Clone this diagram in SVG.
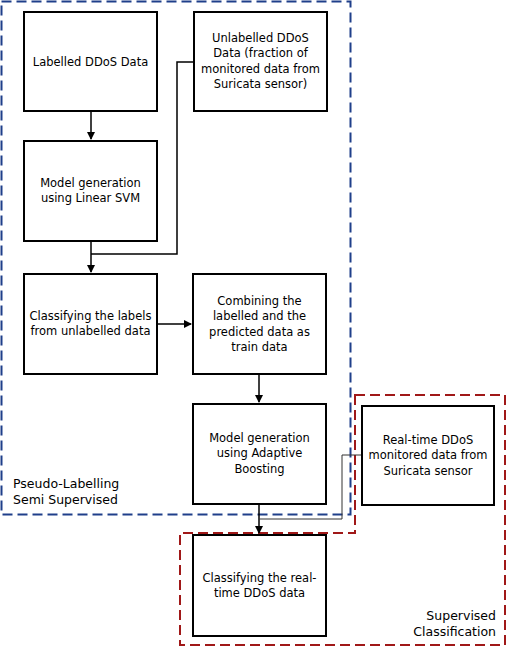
<svg xmlns="http://www.w3.org/2000/svg" width="508" height="646" viewBox="0 0 508 646">
<style>
.box{fill:#fff;stroke:#000;stroke-width:2}
.t{font-family:"DejaVu Sans",Verdana,sans-serif;font-size:11.5px;fill:#000;text-anchor:middle}
.lbl{font-family:"DejaVu Sans",Verdana,sans-serif;font-size:12.5px;fill:#000}
.c{fill:none;stroke:#000;stroke-width:1.5}
</style>
<defs>
<marker id="ah" markerWidth="8" markerHeight="8" refX="7" refY="4" orient="auto" markerUnits="userSpaceOnUse">
<path d="M0,0 L8,4 L0,8 Z" fill="#000"/>
</marker>
</defs>
<rect width="508" height="646" fill="#fff"/>
<g id="region-semi">
<rect x="1.5" y="1.5" width="349" height="513" fill="none" stroke="#1f3f8a" stroke-width="2" stroke-dasharray="10,5"/>
<text class="lbl" x="13" y="488">Pseudo-Labelling</text>
<text class="lbl" x="13" y="504">Semi Supervised</text>
</g>
<g id="region-sup">
<path d="M355,395 H505 V645 H180 V533 H355 Z" fill="none" stroke="#a01818" stroke-width="2" stroke-dasharray="10,5"/>
<text class="lbl" x="496" y="620" text-anchor="end">Supervised</text>
<text class="lbl" x="496" y="636" text-anchor="end">Classification</text>
</g>
<g id="connectors">
<path class="c" d="M91,111 V139" marker-end="url(#ah)"/>
<path class="c" d="M194,62 H177 V254 H91"/>
<path class="c" d="M91,241 V272" marker-end="url(#ah)"/>
<path class="c" d="M157,324 H191" marker-end="url(#ah)"/>
<path class="c" d="M259,374 V402" marker-end="url(#ah)"/>
<path class="c" d="M259,504 V533" marker-end="url(#ah)"/>
<path fill="none" stroke="#333" stroke-width="1" d="M362,455 H342 V519 H259"/>
</g>
<g id="n1"><rect class="box" x="24" y="12" width="133" height="99"/>
<text class="t" x="90.5" y="66">Labelled DDoS Data</text></g>
<g id="n2"><rect class="box" x="194" y="12" width="133" height="99"/>
<text class="t" x="260.5" y="42">Unlabelled DDoS</text>
<text class="t" x="260.5" y="57.3">Data (fraction of</text>
<text class="t" x="260.5" y="72.6">monitored data from</text>
<text class="t" x="260.5" y="87.9">Suricata sensor)</text></g>
<g id="n3"><rect class="box" x="24" y="141" width="133" height="100"/>
<text class="t" x="90.5" y="187">Model generation</text>
<text class="t" x="90.5" y="202.3">using Linear SVM</text></g>
<g id="n4"><rect class="box" x="24" y="274" width="133" height="100"/>
<text class="t" x="90.5" y="320">Classifying the labels</text>
<text class="t" x="90.5" y="335.3">from unlabelled data</text></g>
<g id="n5"><rect class="box" x="193" y="274" width="133" height="100"/>
<text class="t" x="259.5" y="305">Combining the</text>
<text class="t" x="259.5" y="320.3">labelled and the</text>
<text class="t" x="259.5" y="335.6">predicted data as</text>
<text class="t" x="259.5" y="350.9">train data</text></g>
<g id="n6"><rect class="box" x="193" y="404" width="133" height="100"/>
<text class="t" x="259.5" y="442">Model generation</text>
<text class="t" x="259.5" y="457.3">using Adaptive</text>
<text class="t" x="259.5" y="472.6">Boosting</text></g>
<g id="n7"><rect class="box" x="362" y="406" width="132" height="99"/>
<text class="t" x="428" y="444">Real-time DDoS</text>
<text class="t" x="428" y="459.3">monitored data from</text>
<text class="t" x="428" y="474.6">Suricata sensor</text></g>
<g id="n8"><rect class="box" x="193" y="535" width="133" height="101"/>
<text class="t" x="259.5" y="582">Classifying the real-</text>
<text class="t" x="259.5" y="597.3">time DDoS data</text></g>
</svg>
